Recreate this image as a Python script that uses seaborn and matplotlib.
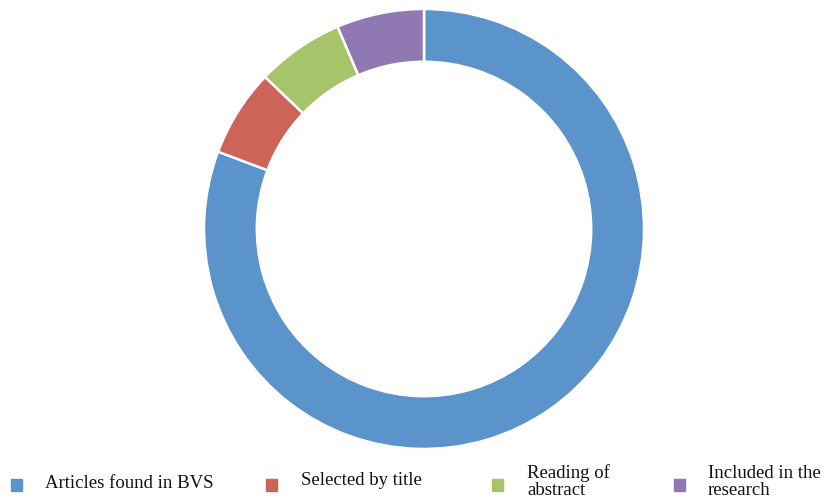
import matplotlib
matplotlib.use("Agg")
import matplotlib.pyplot as plt
from matplotlib.patches import Rectangle
import seaborn as sns

labels = ["Articles found in BVS", "Selected by title", "Reading of\nabstract", "Included in the\nresearch"]
values = [113, 9, 9, 9]
colors = ["#5B94CB", "#CC6459", "#A8C46A", "#9079B3"]

sns.set_theme(style="white")
plt.rcParams['font.family'] = ['Liberation Serif', 'DejaVu Serif']

fig = plt.figure(figsize=(8.25, 5.03), dpi=100)
ax = fig.add_axes([0.2473, 0.1074, 0.5333, 0.8748])
ax.pie(values, colors=colors, startangle=90, counterclock=False, radius=1,
       wedgeprops=dict(width=0.24, edgecolor="white", linewidth=1.8))
ax.set_xlim(-1, 1)
ax.set_ylim(-1, 1)
ax.set_aspect("equal")
ax.axis("off")

# legend along the bottom (manual layout, like the original export)
W, H = 825, 503
sq_x = [11, 266, 492, 674]
txt_x = [45, 301, 527, 708]
base_y = [488, 485, 478, 478]
for lab, col, sx, tx, by in zip(labels, colors, sq_x, txt_x, base_y):
    fig.patches.append(Rectangle((sx / W, 1 - 491 / H), 11 / W, 12 / H,
                                 transform=fig.transFigure, color=col))
    for k, line in enumerate(lab.split("\n")):
        fig.text(tx / W, 1 - (by + 17 * k) / H, line, fontsize=13.5,
                 va="baseline", ha="left", color="#111111")

fig.savefig("out.png", dpi=100)
